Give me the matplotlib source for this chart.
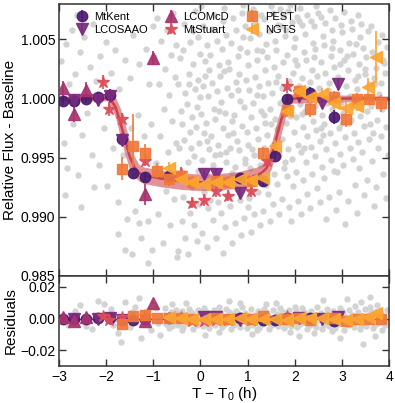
import numpy as np
import matplotlib
matplotlib.use('Agg')
import matplotlib.pyplot as plt

plt.rcParams['font.family'] = ['Liberation Sans', 'DejaVu Sans']
plt.rcParams['mathtext.default'] = 'regular'

''' transit model (read off the figure) '''
model_t = [-3.0, -1.95, -1.9, -1.8, -1.7, -1.6, -1.5, -1.4, -1.3, -1.2, -0.8, -0.4, 0.0,
           0.4, 0.8, 1.2, 1.3, 1.4, 1.5, 1.6, 1.7, 1.8, 1.85, 1.9, 4.0]
model_f = [1.0, 1.0, 0.9999, 0.9993, 0.9980, 0.9966, 0.9951, 0.9942, 0.9937, 0.9935, 0.9932,
           0.99300, 0.99290, 0.99295, 0.9931, 0.9935, 0.9937, 0.9941, 0.9950, 0.9965, 0.9980,
           0.9993, 0.9998, 1.0, 1.0]
band_hi = [1.0002, 1.0002, 1.0004, 1.0001, 0.9992, 0.9979, 0.9963, 0.9951, 0.9944, 0.9942, 0.9939,
           0.9937, 0.9936, 0.99365, 0.9938, 0.9942, 0.9944, 0.9950, 0.9961, 0.9977, 0.9991,
           1.0001, 1.0004, 1.0004, 1.0002]
band_lo = [0.9998, 0.9998, 0.9994, 0.9984, 0.9968, 0.9953, 0.9940, 0.9934, 0.9930, 0.9928, 0.9925,
           0.9923, 0.9922, 0.99225, 0.9924, 0.9928, 0.9930, 0.9933, 0.9940, 0.9953, 0.9968,
           0.9984, 0.9992, 0.9996, 0.9998]

''' binned light curves '''
kent_t = [-2.92, -2.67, -2.42, -2.17, -1.92, -1.67, -1.42, -1.17, -0.67, 0.83, 1.33, 1.58, 1.83, 2.33, 2.83]
kent_f = [0.99983, 0.99975, 1.0000, 1.0001, 1.0003, 0.99661, 0.99373, 0.99339, 0.99347, 0.9933,
          0.9930, 0.99517, 0.99992, 1.0005, 0.9984]
kent_e = [0.0004, 0.0004, 0.0004, 0.0004, 0.0005, 0.0004, 0.0004, 0.0004, 0.0004, 0.0004,
          0.0004, 0.0004, 0.0005, 0.0005, 0.0006]

saao_t = [-2.67, -2.17, -1.92, -1.67, 0.08, 0.33, 0.83, 2.08, 2.58, 2.92]
saao_f = [0.9999, 0.99985, 1.0002, 0.9965, 0.99364, 0.99364, 0.99203, 1.0002, 0.99966, 1.00125]
saao_e = [0.0005, 0.0005, 0.0005, 0.0005, 0.0004, 0.0004, 0.0005, 0.0005, 0.0005, 0.0005]

mcd_t = [-2.92, -2.67, -2.42, -1.17, -1.0]
mcd_f = [1.00085, 0.9987, 1.0007, 0.9919, 1.0034]
mcd_e = [0.0006, 0.0007, 0.0007, 0.0009, 0.0006]

stuart_t = [-2.07, -1.94, -1.67, -1.17, -0.42, -0.17, 0.08, 0.33, 0.58, 1.08, 1.42, 1.83]
stuart_f = [1.0014, 0.9991, 0.9983, 0.99475, 0.99373, 0.99119, 0.9914, 0.9922, 0.99178, 0.9922,
            0.99475, 1.0011]
stuart_e = [0.0006, 0.0006, 0.0005, 0.0005, 0.0005, 0.0005, 0.0005, 0.0005, 0.0005, 0.0005,
            0.0005, 0.0006]

pest_t = [-1.67, -1.42, -1.17, -0.92, -0.67, -0.42, -0.17, 0.33, 0.58, 1.08, 1.33, 1.83, 2.08,
          2.33, 2.83, 3.08, 3.33, 3.58, 3.83]
pest_f = [0.99407, 0.9960, 0.99542, 0.9939, 0.99322, 0.9934, 0.9929, 0.9930, 0.9929, 0.9930,
          0.99542, 0.9990, 1.0006, 0.99907, 1.0001, 0.9983, 1.0000, 0.99992, 0.99958]
pest_e = [0.0010, 0.0027, 0.0007, 0.0006, 0.0006, 0.0005, 0.0005, 0.0005, 0.0005, 0.0005,
          0.0005, 0.0006, 0.0005, 0.0006, 0.0005, 0.0007, 0.0005, 0.0005, 0.0007]

ngts_t = [-0.67, -0.42, -0.17, 0.08, 0.33, 0.58, 0.83, 1.08, 1.33, 1.58, 1.83, 2.08, 2.33,
          2.58, 2.83, 3.08, 3.33, 3.55, 3.72]
ngts_f = [0.99415, 0.9932, 0.9929, 0.9928, 0.9929, 0.9929, 0.9932, 0.9931, 0.9933, 0.9960,
          0.9989, 1.0006, 1.0001, 1.0004, 0.99958, 0.9992, 0.9994, 1.0010, 1.0035]
ngts_e = [0.0005, 0.0004, 0.0004, 0.0004, 0.0004, 0.0004, 0.0004, 0.0004, 0.0004, 0.0005,
          0.0005, 0.0005, 0.0005, 0.0005, 0.0005, 0.0005, 0.0005, 0.0007, 0.0022]

''' unbinned data (grey) '''
gray_top = [
    (-2.95, 1.0032), (-2.90, 0.9962), (-2.85, 1.0046), (-2.82, 0.9941), (-2.78, 1.0012), (-2.72, 1.0058),
    (-2.70, 0.9978), (-2.65, 1.0021), (-2.60, 0.9935), (-2.55, 1.0039), (-2.50, 0.9969), (-2.47, 1.0052),
    (-2.40, 0.9988), (-2.35, 1.0027), (-2.30, 0.9952), (-2.28, 1.0063), (-2.22, 1.0015), (-2.15, 0.9944),
    (-2.12, 1.0036), (-2.05, 0.9975), (-2.00, 1.0048), (-1.97, 0.9926), (-1.90, 1.0022), (-1.85, 0.9958),
    (-1.80, 1.0041), (-1.75, 0.9912), (-1.72, 1.0008), (-1.65, 0.9952), (-1.60, 1.0033), (-1.55, 0.9898),
    (-1.50, 1.0017), (-1.48, 0.9975), (-1.42, 1.0054), (-1.38, 0.9905), (-1.33, 0.9986), (-1.30, 1.0029),
    (-1.25, 0.9882), (-1.20, 0.9968), (-1.15, 1.0042), (-1.12, 0.9896), (-1.08, 1.0012), (-1.05, 0.9978),
    (-1.02, 0.9872), (-1.00, 1.0061), (-1.75, 0.9885), (-1.60, 0.9872), (-1.45, 0.9868), (-1.30, 0.9895),
    (-1.10, 0.9861), (-2.88, 0.9918), (-2.52, 0.9908), (-2.25, 0.9925), (-2.62, 1.0071),
    (-0.98, 1.0035), (-0.95, 0.9945), (-0.93, 1.0068), (-0.90, 0.9902), (-0.88, 1.0012), (-0.85, 0.9968),
    (-0.83, 1.0049), (-0.80, 0.9878), (-0.78, 0.9991), (-0.75, 1.0025), (-0.73, 0.9922), (-0.70, 1.0058),
    (-0.68, 0.9955), (-0.66, 1.0003), (-0.64, 0.9893), (-0.62, 1.0037), (-0.60, 0.9981), (-0.58, 1.0072),
    (-0.56, 0.9915), (-0.54, 1.0018), (-0.52, 0.9962), (-0.50, 0.9866), (-0.51, 1.0045),
    (-0.47, 0.9871), (-0.43, 0.9934), (-0.46, 0.9958), (-0.42, 0.9989), (-0.48, 1.0012), (-0.44, 1.0034),
    (-0.33, 0.9882), (-0.37, 0.9917), (-0.34, 0.9965), (-0.38, 0.9978), (-0.32, 1.0005), (-0.36, 1.0041),
    (-0.35, 1.0063), (-0.27, 0.9868), (-0.23, 0.9903), (-0.26, 0.9946), (-0.22, 0.9972), (-0.28, 0.9995),
    (-0.24, 1.0021), (-0.21, 1.0048), (-0.13, 0.9893), (-0.17, 0.9925), (-0.14, 0.9951), (-0.18, 0.9984),
    (-0.12, 1.0008), (-0.16, 1.0029), (-0.15, 1.0057), (-0.11, 1.0074), (-0.07, 0.9879), (-0.03, 0.9911),
    (-0.06, 0.9939), (-0.02, 0.9962), (-0.08, 0.9993), (-0.04, 1.0016), (-0.01, 1.0038), (-0.05, 1.0052),
    (0.03, 0.9886), (0.07, 0.9921), (0.04, 0.9948), (0.08, 0.9971), (0.02, 0.9987), (0.06, 1.0011),
    (0.09, 1.0032), (0.05, 1.0061), (0.01, 1.0078), (0.13, 0.9874), (0.17, 0.9907), (0.14, 0.9935),
    (0.18, 0.9957), (0.12, 0.9979), (0.16, 1.0002), (0.19, 1.0024), (0.15, 1.0045), (0.27, 0.9897),
    (0.23, 0.9926), (0.26, 0.9944), (0.22, 0.9968), (0.28, 0.9991), (0.24, 1.0013), (0.21, 1.0037),
    (0.25, 1.0059), (0.29, 1.0071), (0.33, 0.9882), (0.37, 0.9912), (0.34, 0.9939), (0.38, 0.9961),
    (0.32, 0.9983), (0.36, 1.0006), (0.39, 1.0028), (0.35, 1.0049), (0.47, 0.9869), (0.43, 0.9903),
    (0.46, 0.9931), (0.42, 0.9953), (0.48, 0.9975), (0.44, 0.9997), (0.41, 1.0019), (0.45, 1.0042),
    (0.49, 1.0066), (0.53, 0.9891), (0.57, 0.9918), (0.54, 0.9946), (0.58, 0.9969), (0.52, 0.9988),
    (0.56, 1.0009), (0.59, 1.0031), (0.55, 1.0054), (0.51, 1.0077), (0.67, 0.9878), (0.63, 0.9909),
    (0.66, 0.9937), (0.62, 0.9958), (0.68, 0.9981), (0.64, 1.0003), (0.61, 1.0025), (0.65, 1.0047),
    (0.69, 1.0068), (0.73, 0.9895), (0.77, 0.9923), (0.74, 0.9942), (0.78, 0.9964), (0.72, 0.9986),
    (0.76, 1.0014), (0.79, 1.0036), (0.75, 1.0058), (0.87, 0.9884), (0.83, 0.9914), (0.86, 0.9935),
    (0.82, 0.9956), (0.88, 0.9977), (0.84, 0.9998), (0.81, 1.0021), (0.85, 1.0043), (0.89, 1.0072),
    (0.93, 0.9899), (0.97, 0.9927), (0.94, 0.9949), (0.98, 0.9972), (0.92, 0.9993), (0.96, 1.0016),
    (0.99, 1.0039), (0.95, 1.0061), (0.91, 1.0079), (1.07, 0.9887), (1.03, 0.9916), (1.06, 0.9941),
    (1.02, 0.9961), (1.08, 0.9984), (1.04, 1.0007), (1.01, 1.0028), (1.05, 1.0051), (1.09, 1.0069),
    (1.13, 0.9902), (1.17, 0.9929), (1.14, 0.9952), (1.18, 0.9975), (1.12, 0.9996), (1.16, 1.0018),
    (1.19, 1.0041), (1.15, 1.0063), (1.11, 1.0076), (1.27, 0.9893), (1.23, 0.9921), (1.26, 0.9944),
    (1.22, 0.9966), (1.28, 0.9989), (1.24, 1.0011), (1.21, 1.0033), (1.25, 1.0055), (1.29, 1.0071),
    (1.33, 0.9905), (1.37, 0.9932), (1.34, 0.9958), (1.38, 0.9979), (1.32, 1.0002), (1.36, 1.0024),
    (1.39, 1.0046), (1.35, 1.0067), (1.47, 0.9896), (1.43, 0.9919), (1.46, 0.9947), (1.42, 0.9969),
    (1.48, 0.9991), (1.44, 1.0013), (1.41, 1.0035), (1.45, 1.0057), (1.49, 1.0078), (1.53, 0.9911),
    (1.57, 0.9936), (1.54, 0.9961), (1.58, 0.9983), (1.52, 1.0005), (1.56, 1.0027), (1.59, 1.0049),
    (1.55, 1.0072), (1.67, 0.9902), (1.63, 0.9928), (1.66, 0.9952), (1.62, 0.9974), (1.68, 0.9996),
    (1.64, 1.0019), (1.61, 1.0041), (1.65, 1.0062), (1.69, 1.0076), (1.73, 0.9915), (1.77, 0.9941),
    (1.74, 0.9966), (1.78, 0.9987), (1.72, 1.0009), (1.76, 1.0031), (1.79, 1.0053), (1.75, 1.0071),
    (1.87, 0.9908), (1.83, 0.9934), (1.86, 0.9957), (1.82, 0.9979), (1.88, 1.0015), (1.84, 1.0037),
    (1.81, 1.0058), (1.85, 1.0074), (1.93, 0.9896), (1.97, 0.9926), (1.94, 0.9949), (1.98, 0.9972),
    (1.92, 0.9993), (1.96, 1.0022), (1.99, 1.0044), (1.95, 1.0065), (1.91, 1.0079), (2.07, 0.9913),
    (2.03, 0.9938), (2.06, 0.9961), (2.02, 0.9984), (2.08, 1.0011), (2.04, 1.0028), (2.01, 1.0051),
    (2.05, 1.0069), (2.13, 0.9902), (2.17, 0.9931), (2.14, 0.9955), (2.18, 0.9976), (2.12, 0.9995),
    (2.16, 1.0017), (2.19, 1.0039), (2.15, 1.0062), (2.11, 1.0077), (2.27, 0.9919), (2.23, 0.9946),
    (2.26, 0.9968), (2.22, 0.9989), (2.28, 1.0008), (2.24, 1.0033), (2.21, 1.0055), (2.25, 1.0071),
    (2.33, 0.9907), (2.37, 0.9936), (2.34, 0.9959), (2.38, 0.9981), (2.32, 1.0014), (2.36, 1.0024),
    (2.39, 1.0047), (2.35, 1.0066), (2.47, 0.9924), (2.43, 0.9951), (2.46, 0.9973), (2.42, 0.9994),
    (2.48, 1.0019), (2.44, 1.0042), (2.41, 1.0061), (2.45, 1.0078), (2.53, 0.9912), (2.57, 0.9942),
    (2.54, 0.9964), (2.58, 0.9986), (2.52, 1.0009), (2.56, 1.0031), (2.59, 1.0053), (2.55, 1.0069),
    (2.67, 0.9898), (2.63, 0.9933), (2.66, 0.9957), (2.62, 0.9978), (2.68, 0.9996), (2.64, 1.0022),
    (2.61, 1.0045), (2.65, 1.0064), (2.73, 0.9917), (2.77, 0.9948), (2.74, 0.9971), (2.78, 0.9991),
    (2.72, 1.0013), (2.76, 1.0036), (2.79, 1.0058), (2.75, 1.0075), (2.87, 0.9906), (2.83, 0.9939),
    (2.86, 0.9962), (2.82, 0.9983), (2.88, 1.0004), (2.84, 1.0027), (2.81, 1.0049), (2.85, 1.0068),
    (2.93, 0.9921), (2.97, 0.9953), (2.94, 0.9975), (2.98, 0.9995), (2.92, 1.0018), (2.96, 1.0041),
    (2.99, 1.0062), (3.07, 0.9894), (3.03, 0.9944), (3.06, 0.9967), (3.02, 0.9988), (3.08, 1.0011),
    (3.04, 1.0033), (3.01, 1.0056), (3.05, 1.0073), (3.13, 0.9913), (3.17, 0.9958), (3.14, 0.9979),
    (3.18, 1.0002), (3.12, 1.0024), (3.16, 1.0047), (3.19, 1.0066), (3.27, 0.9927), (3.23, 0.9949),
    (3.26, 0.9971), (3.22, 0.9993), (3.28, 1.0016), (3.24, 1.0038), (3.21, 1.0059), (3.33, 0.9903),
    (3.37, 0.9941), (3.34, 0.9963), (3.38, 0.9985), (3.32, 1.0008), (3.36, 1.0029), (3.39, 1.0052),
    (3.35, 1.0071), (3.47, 0.9918), (3.43, 0.9955), (3.46, 0.9977), (3.42, 0.9997), (3.48, 1.0021),
    (3.44, 1.0043), (3.41, 1.0063), (3.53, 0.9931), (3.57, 0.9966), (3.54, 0.9989), (3.58, 1.0012),
    (3.52, 1.0035), (3.56, 1.0057), (3.67, 0.9909), (3.63, 0.9947), (3.66, 0.9971), (3.62, 0.9994),
    (3.68, 1.0017), (3.64, 1.0039), (3.61, 1.0061), (3.73, 0.9925), (3.77, 0.9958), (3.74, 0.9982),
    (3.78, 1.0004), (3.72, 1.0026), (3.76, 1.0048), (3.87, 0.9936), (3.83, 0.9968), (3.86, 0.9991),
    (3.82, 1.0013), (3.88, 1.0033), (3.84, 1.0054), (3.93, 0.9916), (3.97, 0.9952), (3.94, 0.9976),
    (3.98, 0.9998), (3.92, 1.0022), (3.96, 1.0044),
    # second pass through the dense part of the cloud
    (-0.40, 0.9896), (-0.30, 0.9931), (-0.20, 0.9958), (-0.10, 0.9976), (0.00, 1.0001), (0.10, 1.0019),
    (0.20, 0.9914), (0.30, 0.9952), (0.40, 0.9989), (0.50, 1.0023), (0.60, 0.9932), (0.70, 0.9971),
    (0.80, 1.0007), (0.90, 1.0052), (1.00, 0.9908), (1.10, 0.9957), (1.20, 1.0003), (1.30, 1.0040),
    (1.40, 0.9927), (1.50, 0.9978), (1.60, 1.0014), (1.70, 1.0061), (1.80, 0.9946), (1.90, 0.9985),
    (2.00, 1.0033), (2.10, 1.0066), (2.20, 0.9958), (2.30, 0.9997), (2.40, 1.0035), (2.50, 1.0072),
    (2.60, 0.9969), (2.70, 1.0007), (2.80, 1.0043), (2.90, 0.9938), (3.00, 0.9979), (3.10, 1.0036),
    (3.20, 0.9982), (3.30, 1.0046), (3.40, 0.9994), (3.50, 1.0025), (3.60, 0.9978), (3.70, 1.0012),
    (3.80, 0.9997), (3.90, 1.0030), (-0.25, 1.0012), (0.15, 0.9964), (0.55, 0.9955), (0.95, 0.9945),
    (1.35, 0.9986), (1.75, 0.9998), (2.15, 0.9987), (2.55, 0.9975), (2.95, 1.0029), (3.35, 1.0019),
]

gray_res = [
    (-2.80, -0.0040), (-2.55, 0.0085), (-2.30, -0.0065), (-2.18, 0.0110), (-2.05, 0.0090), (-1.90, 0.0060),
    (-1.75, -0.0090), (-1.68, -0.0145), (-1.60, 0.0105), (-1.50, -0.0055), (-1.38, 0.0075), (-1.30, 0.0130),
    (-1.25, -0.0120), (-1.15, 0.0050), (-1.05, -0.0075), (-0.95, 0.0068), (-0.85, -0.0105), (-2.65, 0.0045),
    (-2.42, -0.0050), (-1.85, -0.0040), (-1.45, 0.0040), (-1.10, -0.0040), (-0.90, -0.0030),
    (-0.78, 0.0025), (-0.72, -0.0035), (-0.74, 0.0068), (-0.68, -0.0012), (-0.63, 0.0041), (-0.66, -0.0058),
    (-0.58, 0.0015), (-0.55, -0.0026), (-0.52, 0.0056), (-0.48, -0.0041), (-0.46, 0.0029), (-0.42, -0.0008),
    (-0.38, 0.0047), (-0.36, -0.0052), (-0.32, 0.0018), (-0.28, -0.0031), (-0.25, 0.0062), (-0.22, -0.0016),
    (-0.18, 0.0035), (-0.15, -0.0064), (-0.12, 0.0009), (-0.08, -0.0038), (-0.05, 0.0051), (-0.02, -0.0021),
    (0.02, 0.0028), (0.05, -0.0047), (0.08, 0.0066), (0.12, -0.0011), (0.15, 0.0039), (0.18, -0.0059),
    (0.22, 0.0014), (0.25, -0.0028), (0.28, 0.0054), (0.32, -0.0042), (0.35, 0.0022), (0.38, -0.0009),
    (0.42, 0.0044), (0.45, -0.0055), (0.48, 0.0017), (0.52, -0.0033), (0.55, 0.0061), (0.58, -0.0018),
    (0.62, 0.0032), (0.65, -0.0066), (0.68, 0.0006), (0.72, -0.0039), (0.75, 0.0049), (0.78, -0.0024),
    (0.82, 0.0026), (0.85, -0.0051), (0.88, 0.0071), (0.92, -0.0013), (0.95, 0.0037), (0.98, -0.0061),
    (1.02, 0.0012), (1.05, -0.0029), (1.08, 0.0057), (1.12, -0.0044), (1.15, 0.0021), (1.18, -0.0007),
    (1.22, 0.0046), (1.25, -0.0057), (1.28, 0.0016), (1.32, -0.0034), (1.35, 0.0063), (1.38, -0.0019),
    (1.42, 0.0031), (1.45, -0.0068), (1.48, 0.0004), (1.52, -0.0041), (1.55, 0.0052), (1.58, -0.0023),
    (1.62, 0.0027), (1.65, -0.0049), (1.68, 0.0068), (1.72, -0.0014), (1.75, 0.0038), (1.78, -0.0062),
    (1.82, 0.0011), (1.85, -0.0031), (1.88, 0.0055), (1.92, -0.0045), (1.95, 0.0019), (1.98, -0.0008),
    (2.02, 0.0047), (2.05, -0.0056), (2.08, 0.0015), (2.12, -0.0036), (2.15, 0.0064), (2.18, -0.0021),
    (2.22, 0.0029), (2.25, -0.0067), (2.28, 0.0007), (2.32, -0.0038), (2.35, 0.0050), (2.38, -0.0025),
    (2.42, 0.0024), (2.45, -0.0053), (2.48, 0.0072), (2.52, -0.0012), (2.55, 0.0036), (2.58, -0.0063),
    (2.62, 0.0013), (2.65, -0.0030), (2.68, 0.0058), (2.72, -0.0046), (2.75, 0.0020), (2.78, -0.0006),
    (2.82, 0.0045), (2.85, -0.0058), (2.88, 0.0017), (2.92, -0.0035), (2.95, 0.0066), (2.98, -0.0022),
    (3.02, 0.0030), (3.05, -0.0071), (3.08, 0.0008), (3.12, -0.0040), (3.15, 0.0053), (3.18, -0.0026),
    (3.22, 0.0025), (3.25, -0.0055), (3.28, 0.0076), (3.32, -0.0013), (3.35, 0.0039), (3.38, -0.0066),
    (3.42, 0.0014), (3.45, -0.0160), (3.48, 0.0060), (3.52, -0.0047), (3.55, 0.0021), (3.58, -0.0008),
    (3.62, 0.0048), (3.65, -0.0059), (3.68, 0.0018), (3.72, -0.0037), (3.75, 0.0082), (3.78, -0.0023),
    (3.82, 0.0028), (3.85, -0.0073), (3.88, 0.0010), (3.92, -0.0042), (3.95, 0.0055), (3.98, -0.0027),
    (-0.30, 0.0095), (0.10, -0.0102), (0.60, 0.0110), (1.10, -0.0095), (1.60, 0.0098), (2.10, -0.0108),
    (2.60, 0.0115), (2.95, -0.0125), (3.40, 0.0105), (3.70, -0.0110), (0.40, -0.0088), (1.40, 0.0092),
    (2.40, -0.0090), (3.10, 0.0120), (-0.60, 0.0090), (0.85, 0.0098), (1.90, -0.0085), (3.60, 0.0135),
    (-0.70, 0.0012), (-0.40, 0.0021), (0.00, -0.0004), (0.30, 0.0003), (0.70, -0.0002), (1.00, 0.0024),
    (1.30, -0.0015), (1.70, 0.0002), (2.00, -0.0013), (2.30, 0.0019), (2.70, -0.0016), (3.00, 0.0004),
    (3.30, -0.0003), (3.70, 0.0011), (3.90, -0.0014),
    (-0.60, -0.0045), (-0.20, 0.0040), (0.20, -0.0036), (0.60, 0.0042), (1.00, -0.0044), (1.40, 0.0038),
    (1.80, -0.0040), (2.20, 0.0043), (2.60, -0.0039), (3.00, 0.0045), (3.40, -0.0042), (3.80, 0.0040),
    (-0.40, -0.0070), (0.40, 0.0072), (1.20, -0.0075), (2.00, 0.0070), (2.80, -0.0078), (3.60, 0.0074),
]

instruments = [
    ('MtKent', kent_t, kent_f, kent_e, 'o', '#4a1c6e', 7.5),
    ('LCOSAAO', saao_t, saao_f, saao_e, 'v', '#7b2a80', 8),
    ('LCOMcD', mcd_t, mcd_f, mcd_e, '^', '#a8336e', 8),
    ('MtStuart', stuart_t, stuart_f, stuart_e, '*', '#dd4d5b', 9),
    ('PEST', pest_t, pest_f, pest_e, 's', '#f0793a', 7.5),
    ('NGTS', ngts_t, ngts_f, ngts_e, '<', '#fba532', 8),
]

''' Plot '''
fig = plt.figure(figsize=(3.95, 4.03), dpi=100)
ax = fig.add_axes([0.149, 0.316, 0.836, 0.674])
axr = fig.add_axes([0.149, 0.0915, 0.836, 0.2245])

g = np.array(gray_top)
ax.plot(g[:, 0], g[:, 1], 'o', color='#d3d3d3', ms=4.6, mec='none', zorder=1)
gr = np.array(gray_res)
axr.plot(gr[:, 0], gr[:, 1], 'o', color='#d3d3d3', ms=4.6, mec='none', zorder=1)

ax.fill_between(model_t, band_lo, band_hi, color='#d24a55', alpha=0.6, lw=0, zorder=2)
ax.plot(model_t, model_f, color='#c8434a', lw=1.8, zorder=2.5)
axr.axhline(0, color='0.3', lw=0.8, zorder=2)

for name, t, f, e, m, c, ms in instruments:
    ax.errorbar(t, f, yerr=e, fmt=m, color=c, ms=ms, mec=c, elinewidth=1.3,
                capsize=0, alpha=0.92, zorder=3, label=name)
    res = np.array(f) - np.interp(t, model_t, model_f)
    axr.errorbar(t, res, yerr=e, fmt=m, color=c, ms=ms, mec=c, elinewidth=1.3,
                 capsize=0, alpha=0.92, zorder=3)

ax.set(xlim=(-3, 4), ylim=(0.985, 1.008))
ax.set_yticks([0.985, 0.990, 0.995, 1.000, 1.005])
ax.set_yticklabels(['0.985', '0.990', '0.995', '1.000', '1.005'])
ax.set_xticks(range(-3, 5))
ax.tick_params(labelbottom=False)
ax.set_ylabel('Relative Flux - Baseline', fontsize=11, labelpad=3)

axr.set(xlim=(-3, 4), ylim=(-0.030, 0.027))
axr.set_yticks([-0.02, 0.0, 0.02])
axr.set_yticklabels(['\u22120.02', '0.00', '0.02'])
axr.set_xticks(range(-3, 5))
axr.set_xlabel('T \u2212 T$_0$ (h)', fontsize=11, labelpad=1)
axr.set_ylabel('Residuals', fontsize=11, labelpad=2)

for a in (ax, axr):
    a.tick_params(direction='in', top=True, right=True, length=5, width=1,
                  color='#333333', labelsize=10, pad=2.5)
    for s in a.spines.values():
        s.set_color('#333333')
        s.set_linewidth(1.1)

ax.legend(loc='upper left', bbox_to_anchor=(0.03, 1.0), ncol=3, frameon=False,
          fontsize=8, handlelength=1.0, handletextpad=0.6, columnspacing=1.6,
          labelspacing=0.25, borderaxespad=0.3)

fig.savefig('out.png', dpi=100)
